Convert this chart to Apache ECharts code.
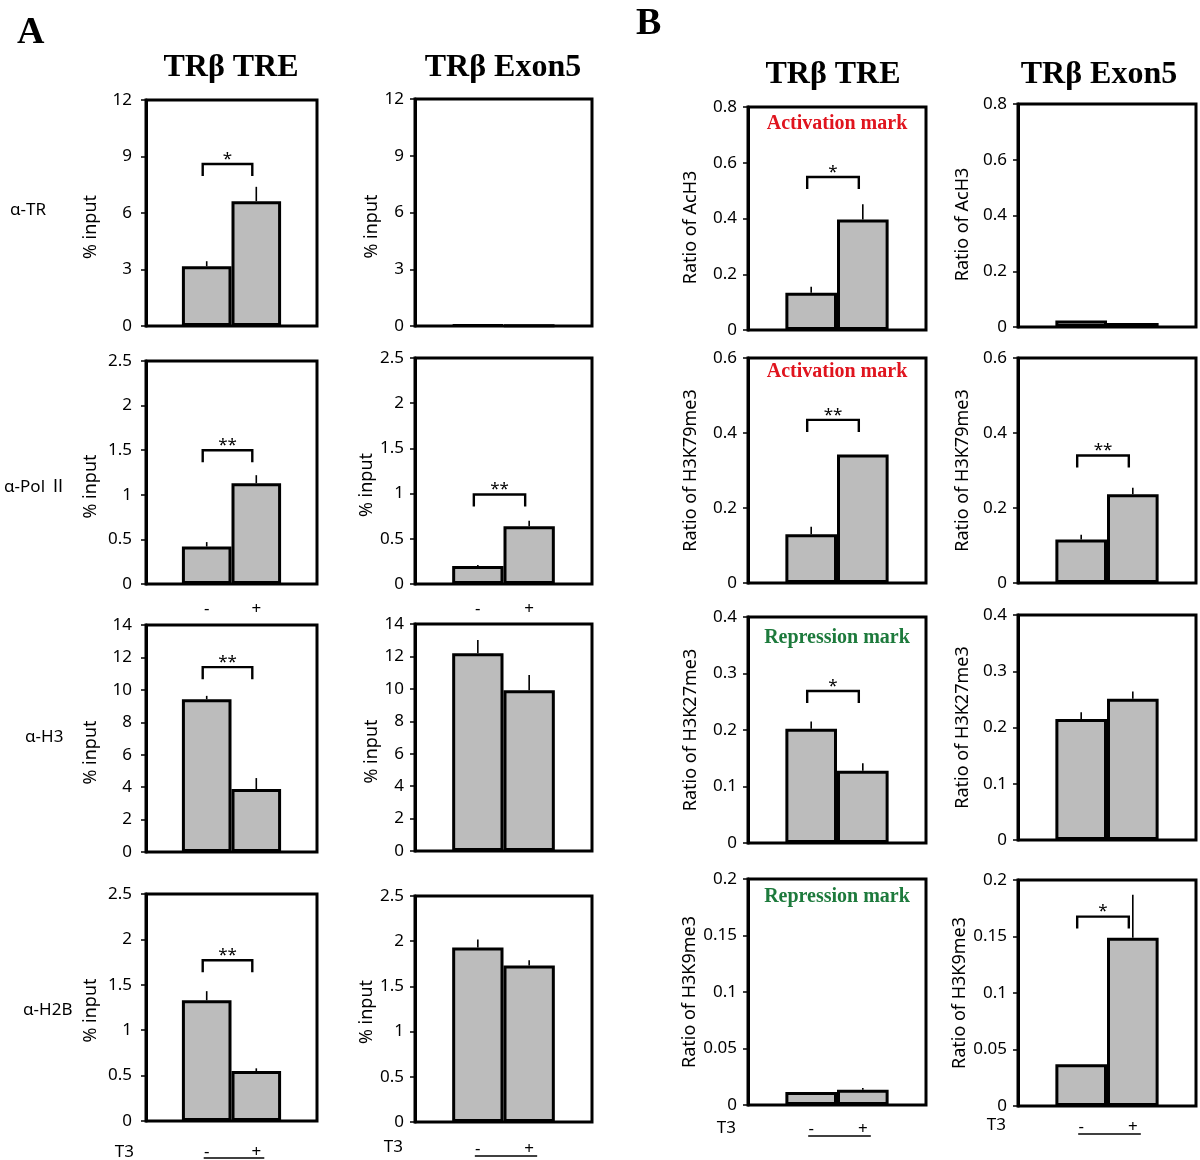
<!DOCTYPE html>
<html><head><meta charset="utf-8">
<script src="https://cdn.jsdelivr.net/npm/echarts@6/dist/echarts.min.js"></script>
<style>html,body{margin:0;padding:0;background:#fff}#c{width:1200px;height:1160px}</style>
</head><body><div id="c"></div>
<script>
// ---------------- data ----------------
const conditions = ['-', '+'];
const colTitles = ['TRβ TRE', 'TRβ Exon5', 'TRβ TRE', 'TRβ Exon5'];
const antibodyLabels = ['α-TR', 'α-Pol Ⅱ', 'α-H3', 'α-H2B'];
const ratioNames = ['Ratio of AcH3', 'Ratio of H3K79me3', 'Ratio of H3K27me3', 'Ratio of H3K9me3'];
const markLabels = ['Activation mark', 'Activation mark', 'Repression mark', 'Repression mark'];

const yMaxA = [12, 2.5, 14, 2.5];
const yStepA = [3, 0.5, 2, 0.5];
const yMaxB = [0.8, 0.6, 0.4, 0.2];
const yStepB = [0.2, 0.2, 0.1, 0.05];

// [T3 -, T3 +] per antibody row
const treA = [[3.17, 6.63], [0.42, 1.13], [9.42, 3.88], [1.33, 0.55]];
const treAErr = [[0.27, 0.76], [0.05, 0.09], [0.21, 0.68], [0.10, 0.03]];
const exonA = [[0.05, 0.03], [0.20, 0.64], [12.19, 9.92], [1.93, 1.73]];
const exonAErr = [[0, 0], [0.01, 0.06], [0.82, 0.93], [0.09, 0.06]];
const treB = [[0.134, 0.396], [0.130, 0.343], [0.202, 0.128], [0.0115, 0.0136]];
const treBErr = [[0.021, 0.055], [0.020, 0], [0.013, 0.013], [0, 0.0014]];
const exonB = [[0.023, 0.014], [0.116, 0.237], [0.215, 0.251], [0.037, 0.149]];
const exonBErr = [[0, 0], [0.013, 0.017], [0.012, 0.013], [0, 0.038]];

// significance: [stars, bracket level] or null
const sigTreA = [['*', 8.6], ['**', 1.5], ['**', 11.4], ['**', 1.77]];
const sigExonA = [null, ['**', 0.99], null, null];
const sigTreB = [['*', 0.549], ['**', 0.435], ['*', 0.269], null];
const sigExonB = [null, ['**', 0.34], null, ['*', 0.1676]];

// ---------------- layout / style ----------------
const colLeft = [146, 415, 748, 1018];
const colWidth = [171, 177, 178, 178];
const boxTop = [[100, 361, 625, 894], [99, 358, 624, 896], [107, 358, 617, 879], [104, 358, 615, 880]];
const boxBottom = [[326, 584, 852, 1121], [326, 584, 851, 1122], [330, 583, 843, 1105], [327, 583, 840, 1106]];
const nameGaps = [46, 33, 48, 46];
const nameShiftA = [14, 14, 14, 3];
const nameShiftB = [9, 0, 0, 0];
const labelMargins = [14, 11, 11, 11];
const titleX = [231, 503, 833, 1099];
const titleY = [68, 68, 75, 75];
const rowLabelX = [10, 4, 25, 23];
const rowLabelY = [210, 487, 737, 1010];
const markY = [124, 372, 638, 897];
const pmDistRow2 = 17;
const pmDistRow4 = [23, 19, 16, 13];
const t3Off = [31, 25, 23, 19];
const ulOff = [37, 34, 31, 28];
const BAR_FRAC = 0.29;
const FONT = "'Noto Sans', 'Noto Sans CJK SC', sans-serif";
const SERIF = "'Liberation Serif', 'DejaVu Serif', serif";

const valueSets = [treA, exonA, treB, exonB];
const errSets = [treAErr, exonAErr, treBErr, exonBErr];
const sigSets = [sigTreA, sigExonA, sigTreB, sigExonB];

function renderErr(params, api) {
  const k = api.value(1), v = api.value(2), e = api.value(3);
  if (!e) return null;
  const base = api.coord([0, v]);
  const top = api.coord([0, v + e]);
  const bw = api.size([1, 0])[0];
  const x = base[0] + (k === 0 ? -1 : 1) * bw * BAR_FRAC / 2;
  return { type: 'line', shape: { x1: x, y1: base[1], x2: x, y2: top[1] },
    style: { stroke: '#000', lineWidth: 1.6 } };
}
function makeSigRender(stars) {
  return function (params, api) {
    const p = api.coord([0, api.value(1)]);
    const bw = api.size([1, 0])[0];
    const half = bw * BAR_FRAC / 2;
    const x1 = p[0] - half - 4, x2 = p[0] + half - 4;
    return { type: 'group', children: [
      { type: 'polyline', shape: { points: [[x1, p[1] + 12], [x1, p[1]], [x2, p[1]], [x2, p[1] + 12]] },
        style: { stroke: '#000', lineWidth: 2.4, fill: null } },
      { type: 'text', style: { text: stars, x: (x1 + x2) / 2, y: p[1] - 5, align: 'center', verticalAlign: 'middle',
        font: '17px ' + FONT, fill: '#000' } }
    ] };
  };
}

const grids = [], xAxes = [], yAxes = [], series = [], graphics = [];
for (let c = 0; c < 4; c++) {
  for (let r = 0; r < 4; r++) {
    const gi = grids.length;
    const isA = c < 2;
    const shift = isA ? nameShiftA[r] : nameShiftB[r];
    grids.push({ left: colLeft[c], top: boxTop[c][r], width: colWidth[c], height: boxBottom[c][r] - boxTop[c][r],
      show: true, borderColor: '#000', borderWidth: 3, backgroundColor: '#fff', containLabel: false, outerBoundsMode: 'none' });
    xAxes.push({ gridIndex: gi, type: 'category', data: ['T3'], axisLine: { show: false }, axisTick: { show: false },
      axisLabel: { show: false }, splitLine: { show: false } });
    yAxes.push({ gridIndex: gi, type: 'value', min: 0, max: isA ? yMaxA[r] : yMaxB[r], interval: isA ? yStepA[r] : yStepB[r],
      name: isA ? '% input' : ratioNames[r], nameLocation: 'middle', nameGap: nameGaps[c], nameRotate: 90,
      nameTextStyle: { fontFamily: FONT, fontSize: 18, color: '#000', padding: [0, shift * 2, 0, 0] },
      axisLine: { show: true, lineStyle: { color: '#000', width: 3 } },
      axisTick: { show: true, inside: false, length: 5, lineStyle: { color: '#000', width: 1.5 } },
      axisLabel: { fontFamily: FONT, fontSize: 17, color: '#000', margin: labelMargins[c] },
      splitLine: { show: false } });
    const showPM = isA ? (r === 1 || r === 3) : r === 3;
    const pmDist = r === 3 ? pmDistRow4[c] : pmDistRow2;
    conditions.forEach((cond, k) => {
      series.push({ type: 'bar', xAxisIndex: gi, yAxisIndex: gi, data: [valueSets[c][r][k]],
        barWidth: (BAR_FRAC * 100) + '%', barGap: '0%', silent: true, animation: false,
        itemStyle: { color: '#bcbcbc', borderColor: '#000', borderWidth: 3 },
        label: { show: showPM, position: 'bottom', distance: pmDist, formatter: cond, fontFamily: FONT, fontSize: 17, color: '#000' } });
    });
    series.push({ type: 'custom', xAxisIndex: gi, yAxisIndex: gi, z: 5, silent: true, animation: false,
      encode: { x: 0, y: 2 },
      data: conditions.map((cond, k) => [0, k, valueSets[c][r][k], errSets[c][r][k]]),
      renderItem: renderErr });
    const sig = sigSets[c][r];
    if (sig) {
      series.push({ type: 'custom', xAxisIndex: gi, yAxisIndex: gi, z: 6, silent: true, animation: false,
        encode: { x: 0, y: 1 }, data: [[0, sig[1]]], renderItem: makeSigRender(sig[0]) });
    }
    if (r === 3) {
      const cx = colLeft[c] + colWidth[c] / 2, half = colWidth[c] * BAR_FRAC / 2;
      const yb = boxBottom[c][r];
      graphics.push({ type: 'text', x: colLeft[c] - 12, y: yb + t3Off[c],
        style: { text: 'T3', font: '17px ' + FONT, fill: '#000', align: 'right', verticalAlign: 'middle' } });
      graphics.push({ type: 'line', shape: { x1: cx - half - 3, y1: yb + ulOff[c], x2: cx + half + 8, y2: yb + ulOff[c] },
        style: { stroke: '#000', lineWidth: 1.5 } });
    }
  }
}
colTitles.forEach((t, c) => graphics.push({ type: 'text', x: titleX[c], y: titleY[c],
  style: { text: t, font: 'bold 32px ' + SERIF, fill: '#000', align: 'center', verticalAlign: 'middle' } }));
graphics.push({ type: 'text', x: 17, y: 33, style: { text: 'A', font: 'bold 38px ' + SERIF, fill: '#000', align: 'left', verticalAlign: 'middle' } });
graphics.push({ type: 'text', x: 636, y: 24, style: { text: 'B', font: 'bold 38px ' + SERIF, fill: '#000', align: 'left', verticalAlign: 'middle' } });
antibodyLabels.forEach((t, r) => graphics.push({ type: 'text', x: rowLabelX[r], y: rowLabelY[r],
  style: { text: t, font: '17px ' + FONT, fill: '#000', align: 'left', verticalAlign: 'middle' } }));
markLabels.forEach((t, r) => graphics.push({ type: 'text', x: colLeft[2] + colWidth[2] / 2, y: markY[r],
  style: { text: t, font: 'bold 20px ' + SERIF, fill: r < 2 ? '#e0141e' : '#1d7a3c', align: 'center', verticalAlign: 'middle' } }));

const chart = echarts.init(document.getElementById('c'), null, { renderer: 'canvas' });
chart.setOption({
  backgroundColor: '#fff',
  animation: false,
  textStyle: { fontFamily: FONT },
  grid: grids, xAxis: xAxes, yAxis: yAxes, series: series, graphic: graphics
});
</script>
</body></html>
